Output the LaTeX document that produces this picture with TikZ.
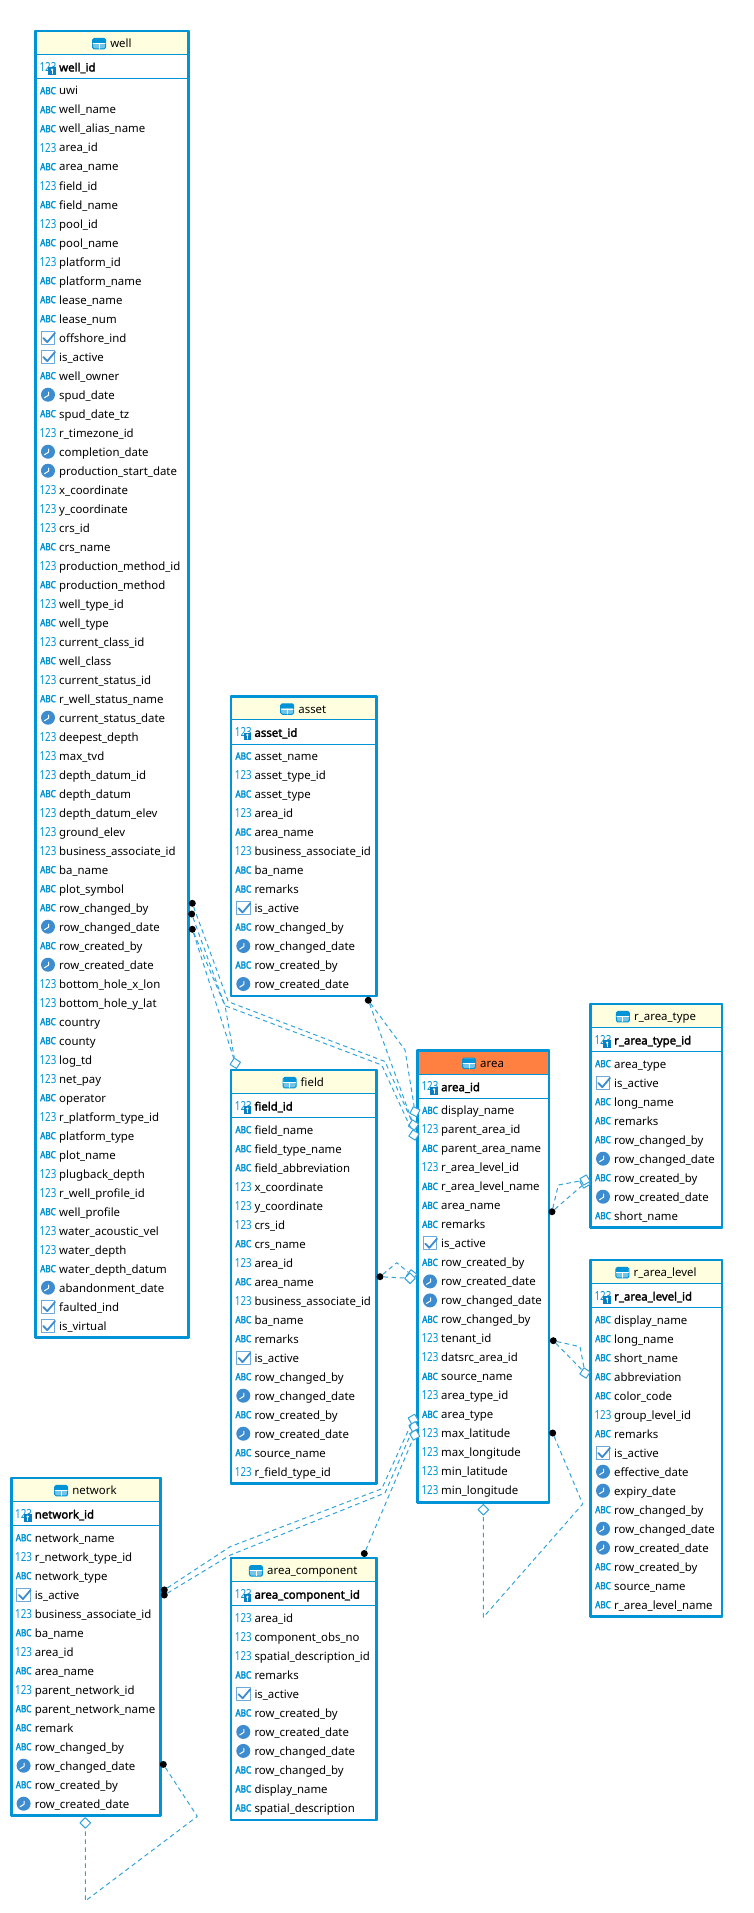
\documentclass[tikz,border=0pt]{standalone}
\usepackage{graphicx}
\usepackage{fontspec}
\usepackage{xcolor}
\usepackage{tikz}
\usetikzlibrary{shapes.geometric}
\setmainfont{Noto Sans}
\newfontfamily\fatfont[FakeBold=2.2]{Noto Sans}
\newfontfamily\fatterfont[FakeBold=3.5]{Noto Sans}
\definecolor{erdblue}{rgb}{0.0, 0.58, 0.84}
\definecolor{fkblue}{rgb}{0.20, 0.64, 0.86}
\definecolor{iconblue}{rgb}{0.24, 0.55, 0.81}
\definecolor{keyblue}{rgb}{0.04, 0.50, 0.76}
\definecolor{headyellow}{rgb}{1.0, 1.0, 0.88}
\definecolor{headorange}{rgb}{1.0, 0.50, 0.25}
\tikzset{
	tablebox/.style={draw=erdblue,line width=2.5pt,rectangle,inner sep=0pt,outer sep=0pt,anchor=north west},
	sepline/.style={draw=erdblue,line width=1pt},
	coltext/.style={anchor=base west,inner sep=0pt,font=\fontsize{11.4}{13}\selectfont,text=black},
	pktext/.style={coltext,font=\fontsize{11.4}{13}\fatfont},
	headtext/.style={anchor=base,inner sep=0pt,font=\fontsize{11.4}{13}\selectfont,text=black},
	abcicon/.style={inner sep=0pt,text=erdblue,font=\fontsize{9.8}{11}\fatterfont},
	numicon/.style={inner sep=0pt,text=erdblue,font=\fontsize{12.5}{14}\selectfont},
	chkicon/.style={draw=iconblue!75,line width=1pt,fill=white,minimum width=13.5pt,minimum height=13pt,inner sep=0pt},
	clkicon/.style={circle,fill=iconblue,minimum size=14pt,inner sep=0pt},
	tblicon/.style={draw=erdblue,line width=1pt,fill=erdblue!55,rounded corners=1.5pt,minimum width=13pt,minimum height=10.5pt,inner sep=0pt},
	fkline/.style={draw=fkblue,line width=1pt,line cap=butt,dash pattern=on 4.5pt off 3.5pt},
	fkdot/.style={circle,fill=black,minimum size=7pt,inner sep=0pt},
	fkdiamond/.style={diamond,draw=fkblue,line width=1pt,fill=white,minimum width=11pt,minimum height=11pt,inner sep=0pt},
}
\newcommand{\iconA}[2]{\node[abcicon] (#1) at (#2) {\scalebox{.83}[1]{ABC}};}
\newcommand{\iconN}[2]{\node[numicon] (#1) at (#2) {\scalebox{.78}[1]{123}};}
\newcommand{\iconC}[2]{\node[chkicon] (#1) at (#2) {};
	\begin{scope}[shift={(#2)}]
		\draw[iconblue,line width=1.8pt] (-4.7,0.3) -- (-0.7,4.4) -- (7,-4.7);
	\end{scope}}
\newcommand{\iconD}[2]{\node[clkicon] (#1) at (#2) {};
	\begin{scope}[shift={(#2)}]
		\draw[white,line width=1pt] (0.5,-2.5) -- (0.5,0.5) -- (-3.5,3);
	\end{scope}}
\newcommand{\iconK}[2]{\iconN{#1}{#2}
	\begin{scope}[shift={(#2)}]
		\fill[keyblue] (0.3,0.5) rectangle (8,8.3);
		\fill[white] (4.1,3) circle (1.3);
		\draw[white,line width=0.8pt] (4.1,3) -- (4.1,7);
	\end{scope}}
\newcommand{\iconT}[2]{\node[tblicon] (#1) at (#2) {};
	\begin{scope}[shift={(#2)}]
		\fill[erdblue] (-6,-4.8) rectangle (6,-0.6);
		\draw[white,line width=0.9pt] (-6,0) -- (6,0) (0,0) -- (0,4.8);
	\end{scope}}
% #1 head colour, #2 name, #3 left, #4 right, #5 top, #6 rows, #7 key column, #8 columns
\newcommand{\erdtable}[8][headyellow]{
	\pgfmathsetmacro\tblw{#4-#3}
	\pgfmathsetmacro\tblh{52.7+19*#6}
	\node[tablebox,fill=white,minimum width=\tblw pt,minimum height=\tblh pt] (#2) at (#3,#5) {};
	\fill[#1] ({#3+1.2},{#5+1.2}) rectangle ({#4-1.2},{#5+23});
	\draw[sepline] (#3,{#5+23.3}) -- (#4,{#5+23.3});
	\draw[sepline] (#3,{#5+47.7}) -- (#4,{#5+47.7});
	\node[tablebox,minimum width=\tblw pt,minimum height=\tblh pt] (#2-frame) at (#3,#5) {};
	\pgfmathsetmacro\cx{(#3+#4)/2+8.7}
	\node[headtext] (#2-head) at (\cx,{#5+16.7}) {#2};
	\iconT{#2-headicon}{[xshift=-11pt,yshift=4pt]#2-head.base west}
	\iconK{#2-keyicon}{{#3+12.3},{#5+35.7}}
	\node[pktext] (#2-key) at ({#3+23.3},{#5+40.5}) {#7};
	\foreach \kind/\colname [count=\i] in {#8}{
		\pgfmathsetmacro\ry{#5+59.7+19*(\i-1)}
		\csname icon\kind\endcsname{#2-i\i}{{#3+12.3},\ry}
		\node[coltext] (#2-c\i) at ({#3+23.3},{\ry+4.3}) {\colname};
	}
}
\begin{document}
\catcode`\_=12
\begin{tikzpicture}[line cap=round,line join=round,x=1pt,y=-1pt]
	\useasboundingbox (0,0) rectangle (753,1913);
	\erdtable{well}{35.7}{188.7}{31}{66}{well_id}{A/uwi,A/well_name,A/well_alias_name,N/area_id,A/area_name,N/field_id,A/field_name,N/pool_id,A/pool_name,N/platform_id,A/platform_name,A/lease_name,A/lease_num,C/offshore_ind,C/is_active,A/well_owner,D/spud_date,A/spud_date_tz,N/r_timezone_id,D/completion_date,D/production_start_date,N/x_coordinate,N/y_coordinate,N/crs_id,A/crs_name,N/production_method_id,A/production_method,N/well_type_id,A/well_type,N/current_class_id,A/well_class,N/current_status_id,A/r_well_status_name,D/current_status_date,N/deepest_depth,N/max_tvd,N/depth_datum_id,A/depth_datum,N/depth_datum_elev,N/ground_elev,N/business_associate_id,A/ba_name,A/plot_symbol,A/row_changed_by,D/row_changed_date,A/row_created_by,D/row_created_date,N/bottom_hole_x_lon,N/bottom_hole_y_lat,A/country,A/county,N/log_td,N/net_pay,A/operator,N/r_platform_type_id,A/platform_type,A/plot_name,N/plugback_depth,N/r_well_profile_id,A/well_profile,N/water_acoustic_vel,N/water_depth,A/water_depth_datum,D/abandonment_date,C/faulted_ind,C/is_virtual}
	\erdtable{asset}{231}{376.3}{696.3}{13}{asset_id}{A/asset_name,N/asset_type_id,A/asset_type,N/area_id,A/area_name,N/business_associate_id,A/ba_name,A/remarks,C/is_active,A/row_changed_by,D/row_changed_date,A/row_created_by,D/row_created_date}
	\erdtable{field}{231}{376.3}{1070}{19}{field_id}{A/field_name,A/field_type_name,A/field_abbreviation,N/x_coordinate,N/y_coordinate,N/crs_id,A/crs_name,N/area_id,A/area_name,N/business_associate_id,A/ba_name,A/remarks,C/is_active,A/row_changed_by,D/row_changed_date,A/row_created_by,D/row_created_date,A/source_name,N/r_field_type_id}
	\erdtable[headorange]{area}{417.7}{549}{1050.7}{21}{area_id}{A/display_name,N/parent_area_id,A/parent_area_name,N/r_area_level_id,A/r_area_level_name,A/area_name,A/remarks,C/is_active,A/row_created_by,D/row_created_date,D/row_changed_date,A/row_changed_by,N/tenant_id,N/datsrc_area_id,A/source_name,N/area_type_id,A/area_type,N/max_latitude,N/max_longitude,N/min_latitude,N/min_longitude}
	\erdtable{r_area_type}{590.7}{722}{1004}{9}{r_area_type_id}{A/area_type,C/is_active,A/long_name,A/remarks,A/row_changed_by,D/row_changed_date,A/row_created_by,D/row_created_date,A/short_name}
	\erdtable{r_area_level}{590.7}{722}{1260}{16}{r_area_level_id}{A/display_name,A/long_name,A/short_name,A/abbreviation,A/color_code,N/group_level_id,A/remarks,C/is_active,D/effective_date,D/expiry_date,A/row_changed_by,D/row_changed_date,D/row_created_date,A/row_created_by,A/source_name,A/r_area_level_name}
	\erdtable{network}{11.3}{160.3}{1478}{15}{network_id}{A/network_name,N/r_network_type_id,A/network_type,C/is_active,N/business_associate_id,A/ba_name,N/area_id,A/area_name,N/parent_network_id,A/parent_network_name,A/remark,A/row_changed_by,D/row_changed_date,A/row_created_by,D/row_created_date}
	\erdtable{area_component}{231}{376.3}{1558.2}{11}{area_component_id}{N/area_id,N/component_obs_no,N/spatial_description_id,A/remarks,C/is_active,A/row_created_by,D/row_created_date,D/row_changed_date,A/row_changed_by,A/display_name,A/spatial_description}

	\node[fkdot] (wellDotA) at (192.3,903.3) {};
	\node[fkdot] (wellDotB) at (191.7,914) {};
	\node[fkdot] (wellDotC) at (192.3,929.3) {};
	\node[fkdot] (assetDot) at (368.3,1000.3) {};
	\node[fkdot] (fieldDot) at (380,1276.7) {};
	\node[fkdot] (typeDot) at (552,1211.7) {};
	\node[fkdot] (levelDot) at (553.3,1340.7) {};
	\node[fkdot] (parentDot) at (552.7,1433) {};
	\node[fkdot] (netDotA) at (164.3,1589.9) {};
	\node[fkdot] (netDotB) at (164.3,1595) {};
	\node[fkdot] (netDotC) at (163.3,1764.4) {};
	\node[fkdot] (compDot) at (364.3,1553.5) {};

	\node[fkdiamond,rotate=12] (fieldDiaA) at (235.3,1063.3) {};
	\node[fkdiamond,rotate=18] (areaDiaA) at (415,1111.7) {};
	\node[fkdiamond,rotate=12] (areaDiaB) at (413.5,1125) {};
	\node[fkdiamond,rotate=12] (areaDiaC) at (414,1135) {};
	\node[fkdiamond,rotate=8] (areaDiaD) at (411.7,1275) {};
	\node[fkdiamond] (areaDiaE) at (410,1278.3) {};
	\node[fkdiamond,rotate=-15] (typeDiaA) at (585,1183) {};
	\node[fkdiamond,rotate=-15] (typeDiaB) at (585,1180) {};
	\node[fkdiamond,rotate=12] (levelDiaA) at (585,1373) {};
	\node[fkdiamond] (areaDiaF) at (483.3,1509.7) {};
	\node[fkdiamond,rotate=-15] (areaDiaG) at (413.3,1419.3) {};
	\node[fkdiamond,rotate=-15] (areaDiaH) at (414,1426.7) {};
	\node[fkdiamond,rotate=-15] (areaDiaI) at (414.7,1435) {};
	\node[fkdiamond] (netDia) at (85.3,1822.9) {};

	\coordinate (bendA) at (228.3,1001.7);
	\coordinate (bendB) at (225,1005.7);
	\coordinate (bendC) at (385,1061.5);
	\coordinate (bendD) at (381.7,1065);
	\coordinate (bendE) at (405,1050);
	\coordinate (bendF) at (390,1060);
	\coordinate (bendG) at (396.7,1262.7);
	\coordinate (bendH) at (558.3,1185);
	\coordinate (bendI) at (580,1346.7);
	\coordinate (bendJ) at (582.7,1504);
	\coordinate (bendK) at (483.3,1617.3);
	\coordinate (bendL) at (230,1546.7);
	\coordinate (bendM) at (230,1555.2);
	\coordinate (bendN) at (381.7,1488.8);
	\coordinate (bendO) at (385,1493);
	\coordinate (bendP) at (197.3,1816.4);
	\coordinate (bendQ) at (85.3,1901);

	\draw[fkline] (wellDotA) -- (bendA) -- (bendC) -- (areaDiaB);
	\draw[fkline] (wellDotB) -- (bendB) -- (fieldDiaA);
	\draw[fkline] (wellDotC) -- (bendB) -- (bendD) -- (areaDiaC);
	\draw[fkline] (wellDotC) -- (fieldDiaA);
	\draw[fkline] (assetDot) -- (bendE) -- (areaDiaA);
	\draw[fkline] (assetDot) -- (bendF) -- (areaDiaB);
	\draw[fkline] (fieldDot) -- (bendG) -- (areaDiaD);
	\draw[fkline] (fieldDot) -- (areaDiaE);
	\draw[fkline] (typeDot) -- (bendH) -- (typeDiaB);
	\draw[fkline] (typeDot) -- (typeDiaA);
	\draw[fkline] (levelDot) -- (bendI) -- (levelDiaA);
	\draw[fkline] (levelDot) -- (levelDiaA);
	\draw[fkline] (parentDot) -- (bendJ) -- (bendK) -- (areaDiaF);
	\draw[fkline] (netDotA) -- (bendL) -- (bendN) -- (areaDiaG);
	\draw[fkline] (netDotB) -- (bendM) -- (bendO) -- (areaDiaH);
	\draw[fkline] (compDot) -- (areaDiaI);
	\draw[fkline] (netDotC) -- (bendP) -- (bendQ) -- (netDia);
\end{tikzpicture}
\end{document}
